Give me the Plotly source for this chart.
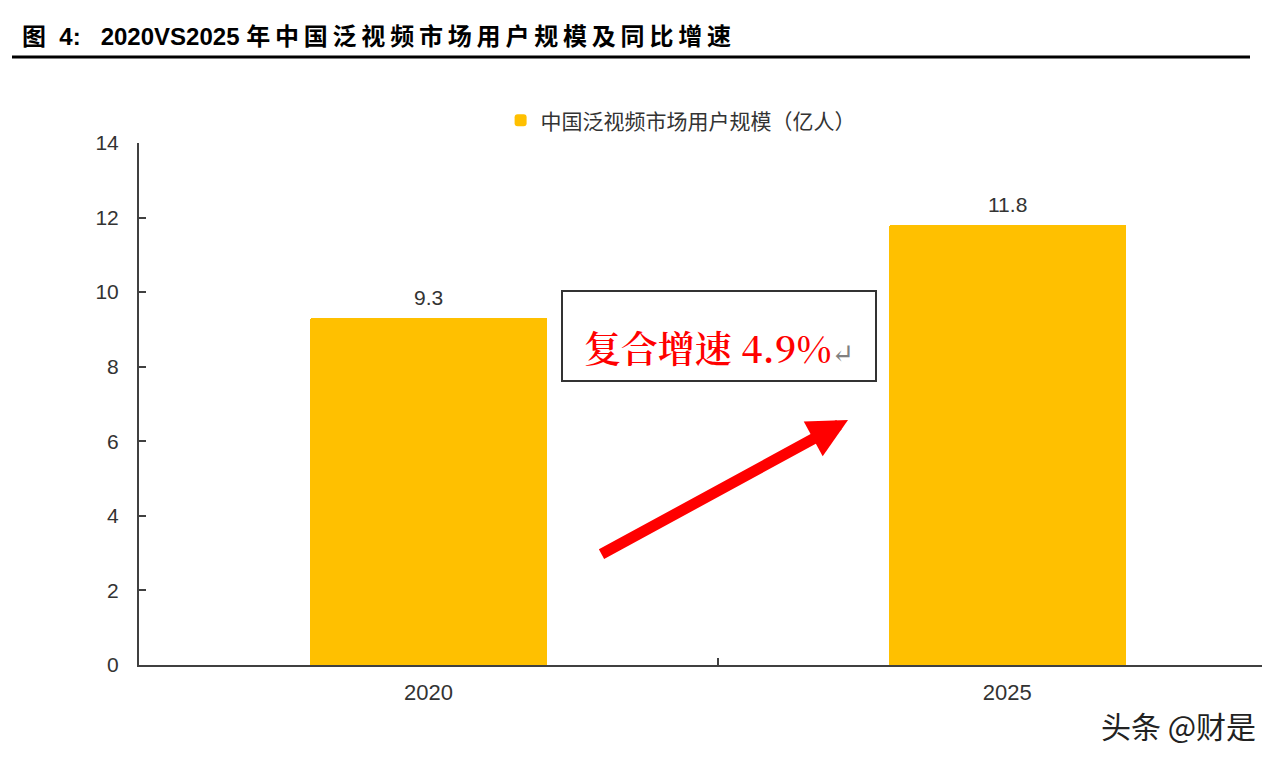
import plotly.graph_objects as go

# ---- data ----
years = ["2020", "2025"]
users = [9.3, 11.8]
series_name = "中国泛视频市场用户规模（亿人）"
y_ticks = [0, 2, 4, 6, 8, 10, 12, 14]
title_prefix = "图  4:   2020VS2025 "
title_cjk = "年中国泛视频市场用户规模及同比增速"
cagr_text = "复合增速 4.9%"
watermark = "头条 @财是"

LATIN = "Liberation Sans, Arial, Noto Sans CJK SC, sans-serif"
BAR = "#FFC000"
AX = "#404040"

# title shown with the loose character spacing of the original
title_html = "<b>" + title_prefix.replace(" ", "\u00a0") + "\u2009".join(title_cjk) + "</b>"

fig = go.Figure()
fig.add_trace(go.Bar(
    x=years, y=users, name=series_name,
    marker=dict(color=BAR, line=dict(width=0), cornerradius=2),
    width=0.41, cliponaxis=False,
))

# value labels above bars (category axis -> serial index)
for i, v in enumerate(users):
    fig.add_annotation(x=i, y=v, xref="x", yref="y", text=f"{v:.1f}", showarrow=False,
                       yanchor="bottom", yshift=7,
                       font=dict(family=LATIN, size=21, color="#333333"))

fig.update_layout(
    width=1281, height=764,
    margin=dict(l=139, r=19, t=143, b=99),
    paper_bgcolor="white", plot_bgcolor="white",
    showlegend=True,
    legend=dict(orientation="h", x=0.322, xanchor="left", y=1.082, yanchor="top",
                font=dict(family=LATIN, size=21, color="#333333"),
                bgcolor="rgba(0,0,0,0)"),
    title=dict(text=title_html, xref="container", yref="container",
               x=22/1281, xanchor="left", y=1-37/764, yanchor="middle",
               font=dict(family=LATIN, size=24, color="black")),
    bargap=0,
)

fig.update_xaxes(
    type="category", range=[-0.5, 1.44],
    showline=True, linecolor=AX, linewidth=2,
    ticks="inside", ticklen=7, tickwidth=2, tickcolor=AX, tickson="boundaries",
    tickfont=dict(family=LATIN, size=22, color="#333333"),
    ticklabelstandoff=7, showgrid=False, zeroline=False,
)
fig.update_yaxes(
    range=[0, 14], tickvals=y_ticks,
    showline=True, linecolor=AX, linewidth=2,
    ticks="inside", ticklen=7, tickwidth=2, tickcolor=AX,
    tickfont=dict(family=LATIN, size=21, color="#333333"),
    ticklabelstandoff=14, showgrid=False, zeroline=False,
)

# underline below title
fig.add_shape(type="line", xref="paper", yref="paper",
              x0=(12-139)/1123, x1=(1250-139)/1123,
              y0=(665-57)/522, y1=(665-57)/522,
              line=dict(color="black", width=3))

# CAGR text box
fig.add_annotation(
    xref="paper", yref="paper", x=(719-139)/1123, y=(665-336)/522,
    xanchor="center", yanchor="middle",
    text=cagr_text + "<span style='color:#808080;font-size:27px;font-weight:400'>↵</span>",
    font=dict(family="Noto Serif CJK SC, DejaVu Serif, Noto Sans CJK SC", size=37,
              color="#FF0000", weight=600),
    showarrow=False, bordercolor="#333333", borderwidth=2, borderpad=6,
    width=300, height=76, align="center", valign="bottom", bgcolor="white",
)

# red arrow
fig.add_annotation(
    xref="paper", yref="paper", x=(848-139)/1123, y=(665-420)/522,
    ax=-248, ay=135, axref="pixel", ayref="pixel",
    text="", showarrow=True, arrowhead=2, arrowsize=0.72, arrowwidth=11,
    arrowcolor="#FF0000", standoff=0,
)

# watermark
fig.add_annotation(
    xref="paper", yref="paper", x=(1258-139)/1123, y=(665-725)/522,
    xanchor="right", yanchor="middle", showarrow=False,
    text=watermark, font=dict(family="Noto Sans CJK SC", size=30, color="#222222"),
)

fig.write_html("out.html")
